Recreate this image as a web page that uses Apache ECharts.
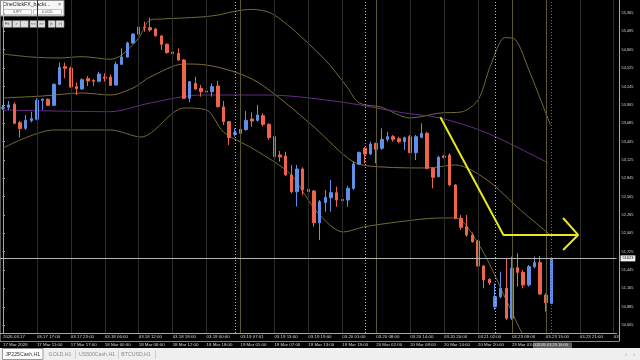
<!DOCTYPE html>
<html><head><meta charset="utf-8">
<script src="https://cdn.jsdelivr.net/npm/echarts@6/dist/echarts.min.js"></script>
<style>html,body{margin:0;padding:0;background:#000;overflow:hidden}#c{width:640px;height:360px}</style>
</head><body><div id="c"></div>
<script>
// [open, close, low, high] for each H1 candle
const candles = [
[53912,53922,53886,53962],[53927,53962,53886,54023],[53973,53683,53668,54003],[53693,53602,53465,53718],
[53607,53729,53581,53810],[53724,53754,53698,53861],[53744,54033,53729,54064],[54033,54049,53886,54064],
[54049,53957,53947,54064],[53957,54277,53947,54293],[54277,54536,54267,54613],[54546,54521,54369,54608],
[54526,54237,54226,54546],[54242,54211,54115,54303],[54206,54348,54191,54369],[54364,54328,54252,54404],
[54338,54323,54252,54354],[54323,54435,54308,54470],[54389,54369,54318,54445],[54389,54262,54252,54430],
[54267,54582,54257,54623],[54582,54694,54572,54826],[54694,54907,54684,54928],[54907,55044,54897,55055],
[55039,55151,55029,55182],[55151,55141,55080,55232],[55141,55106,55080,55294],[55121,55019,55004,55131],
[55014,54887,54801,55029],[54887,54760,54745,54902],[54770,54745,54735,54801],[54750,54648,54633,54826],
[54648,54064,54054,54664],[54064,54318,54003,54328],[54292,54206,54191,54394],[54216,54165,54089,54267],
[54175,54160,54074,54267],[54165,54242,54089,54292],[54252,53937,53922,54328],[53932,53708,53657,54023],
[53708,53464,53352,53718],[53515,53540,53479,53606],[53530,53591,53505,53860],[53586,53728,53570,53870],
[53748,53718,53631,53850],[53728,53809,53708,53962],[53799,53667,53631,53835],[53667,53464,53428,53682],
[53479,53174,53159,53530],[53199,53169,53098,53260],[53184,52895,52885,53250],[52894,52640,52615,53047],
[52640,52986,52412,53047],[52986,52666,52590,53011],[52676,52640,52590,52767],[52650,52167,52106,52666],
[52167,52488,51903,52513],[52473,52554,52335,52666],[52549,52625,52335,52818],[52625,52513,52411,52716],
[52523,52503,52259,52615],[52513,52691,52411,52727],[52691,53062,52666,53098],[53062,53240,53047,53250],
[53301,53214,53072,53326],[53214,53367,53199,53403],[53377,53286,53072,53387],[53301,53438,53276,53606],
[53438,53479,53403,53555],[53479,53438,53403,53504],[53448,53403,53377,53479],[53403,53464,53276,53479],
[53479,53235,53225,53504],[53235,53479,53123,53504],[53469,53530,53453,53682],[53530,52996,52981,53555],
[52996,52859,52691,53011],[52869,53164,52859,53184],[53184,53164,53149,53199],[53199,52742,52727,53225],
[52742,52234,52218,52757],[52234,52096,52056,52284],[52106,51979,51954,52284],[51979,51878,51862,52015],
[51888,51507,51497,51903],[51507,51293,51166,51522],[51303,51252,51217,51319],[50886,51039,50840,51242],
[51039,51166,51013,51420],[51166,50709,50684,51624],[50709,51471,50684,51649],[51481,51410,51192,51700],
[51410,51217,51166,51446],[51217,51497,51192,51522],[51497,51558,51471,51649],[51558,51080,51064,51659],
[51064,50947,50811,51090],[50937,51623,50927,51634]
];
const slotCount = 109;
const labelStep = 6;
const row1Labels = ['2026.03.17','03.17 17:00','03.17 23:00','03.18 06:00','03.18 12:00','03.18 18:00','03.19 00:00','03.19 07:01','03.19 13:00','03.19 19:00','03.20 01:00','03.20 08:00','03.20 14:00','03.20 20:00','03.21 02:00','03.23 09:00','03.23 15:00','03.23 21:00','03'];
const row2Labels = ['17 Mar 2026','17 Mar 11:00','17 Mar 17:00','18 Mar 00:00','18 Mar 06:00','18 Mar 12:00','18 Mar 18:00','19 Mar 01:00','19 Mar 07:00','19 Mar 13:00','19 Mar 19:00','20 Mar 02:00','20 Mar 08:00','20 Mar 14:00','20 Mar 20:00','23 Mar 03:00'];
const priceTicks = [55365,55085,54805,54525,54245,53965,53685,53405,53125,52845,52565,52285,52005,51725,51445,51165,50885,50605];
const priceMin = 50485, priceMax = 55563;
const lastPrice = 51623;
// indicator readings: [candle index, price]
const upperBand = [[0,54740],[5,54694],[10,54679],[14,54699],[19,54659],[21,54725],[24,54984],[26,55258],[28,55273],[35,55304],[38,55334],[41,55390],[44,55420],[46.5,55390],[48,55334],[51,55136],[57,54648],[60.6,54267],[63,53992],[66.8,53931],[72,53764],[77.3,53840],[81,53855],[84,54038],[86.2,54560],[88.8,54990],[90.6,54960],[93,54496],[96.8,53657]];
const middleBand = [[0,54069],[7,54099],[14,54145],[19,54114],[23,54221],[24.4,54298],[26,54389],[32,54587],[36,54572],[41,54465],[45,54313],[50,53992],[55,53627],[62,53093],[67,53017],[75,53002],[80,53047],[85.6,52818],[91.5,52361],[96.8,51980]];
const lowerBand = [[0,53306],[9,53581],[19,53581],[24.4,53474],[32,53916],[36,53886],[39,53550],[44,53306],[48,53093],[51,52894],[55.7,52315],[60.2,52025],[63.8,52102],[69.8,52178],[77.3,52239],[80,52239],[84.4,51797],[89,50988],[91.5,50531],[94,50150]];
const slowMA = [[0,53886],[19,53860],[26,53992],[35,54114],[47,54114],[52.6,54084],[61,53992],[71,53840],[77.3,53764],[85.6,53535],[96.4,53078]];
const gridLineIdx = [6,12,18,24,30,36,42,48,54,60,66,72,78,84,90,96,102,108];
const brightGridIdx = [42,66,90,96];
const separatorIdx = [41,64,87];
const shiftIdx = [97];
const trendPath = [[77.35,53774],[88.5,51980],[101.7,51980]];
const arrowHead = [[99.05,52239],[101.7,51980],[99.05,51751]];

const UP = '#5f8fe6', DOWN = '#ef6549';
const FONT = 'Liberation Sans, Arial, sans-serif';
const cats = Array.from({length: slotCount}, (_, i) => String(i));
const lbl = (arr) => (v) => { const i = parseInt(v, 10); return i % labelStep === 0 ? (arr[i / labelStep] || '') : ''; };

const vLines = gridLineIdx.map(i => ({xAxis: i, lineStyle: {color: brightGridIdx.includes(i) ? '#5a5630' : '#2c2c2a', width: 1, type: 'solid'}}))
  .concat(separatorIdx.map(i => ({xAxis: i, lineStyle: {color: '#bdbdbd', width: 1, type: [1, 2]}})))
  .concat(shiftIdx.map(i => ({xAxis: i, lineStyle: {color: '#6a6a6a', width: 1, type: [1, 2]}})));

const chart = echarts.init(document.getElementById('c'), null, {renderer: 'canvas'});
chart.setOption({
  backgroundColor: '#000',
  animation: false,
  grid: {left: -1.17, top: 0, width: 617.7, height: 333},
  xAxis: [
    {type: 'category', data: cats, gridIndex: 0, position: 'bottom',
     axisLine: {show: true, lineStyle: {color: '#a8a8a8'}}, axisTick: {show: false}, splitLine: {show: false},
     axisLabel: {interval: 0, formatter: lbl(row1Labels), align: 'left', color: '#d8d8d8', fontSize: 4.4, fontFamily: FONT, margin: 2}},
    {type: 'category', data: cats, gridIndex: 0, position: 'bottom', offset: 8,
     axisLine: {show: false}, axisTick: {show: false}, splitLine: {show: false},
     axisLabel: {interval: 0, formatter: lbl(row2Labels), align: 'left', color: '#d8d8d8', fontSize: 4.4, fontFamily: FONT, margin: 2}},
    {type: 'value', gridIndex: 0, min: -0.5, max: slotCount - 0.5, show: false}
  ],
  yAxis: [{type: 'value', position: 'right', offset: 2.5, min: priceMin, max: priceMax, scale: true,
    axisLine: {show: true, lineStyle: {color: '#a8a8a8'}},
    axisTick: {show: true, length: 2, customValues: priceTicks, lineStyle: {color: '#a8a8a8'}},
    splitLine: {show: false},
    axisLabel: {customValues: priceTicks, color: '#d0d0d0', fontSize: 3.9, fontFamily: FONT, margin: 2.5}}],
  series: [
    {type: 'line', xAxisIndex: 2, data: lowerBand, showSymbol: false, smooth: 0.3, lineStyle: {color: '#6f6c34', width: 1}, z: 1,
     markLine: {silent: true, symbol: 'none', label: {show: false}, data: vLines}},
    {type: 'line', xAxisIndex: 2, data: upperBand, showSymbol: false, smooth: 0.3, lineStyle: {color: '#6f6c34', width: 1}, z: 1},
    {type: 'line', xAxisIndex: 2, data: middleBand, showSymbol: false, smooth: 0.3, lineStyle: {color: '#7d6c37', width: 1}, z: 1},
    {type: 'line', xAxisIndex: 2, data: slowMA, showSymbol: false, smooth: 0.3, lineStyle: {color: '#6a2a8c', width: 1}, z: 1},
    {type: 'candlestick', xAxisIndex: 0, data: candles.map(c => [c[0], c[1], c[2], c[3]]), barWidth: 3, z: 3,
     itemStyle: {color: UP, color0: DOWN, borderColor: UP, borderColor0: DOWN, borderWidth: 1},
     markLine: {silent: true, symbol: 'none', data: [{yAxis: lastPrice}],
       lineStyle: {color: '#b4b4b4', width: 1, type: 'solid'},
       label: {position: 'end', formatter: String(lastPrice), backgroundColor: '#f4f4f4', color: '#000', fontSize: 3.9, fontFamily: FONT, padding: [1, 2], distance: 4}}},
    {type: 'line', xAxisIndex: 2, data: trendPath, showSymbol: false, lineStyle: {color: '#e9e620', width: 2}, z: 5},
    {type: 'line', xAxisIndex: 2, data: arrowHead, showSymbol: false, lineStyle: {color: '#e9e620', width: 2}, z: 5}
  ],
  graphic: [
    {type: 'line', shape: {x1: 619.5, y1: 0, x2: 619.5, y2: 341}, style: {stroke: '#a8a8a8', lineWidth: 1}, silent: true},
    {type: 'line', shape: {x1: 0, y1: 341.5, x2: 619.5, y2: 341.5}, style: {stroke: '#8a8a8a', lineWidth: 1}, silent: true},
    {type: 'line', shape: {x1: 0.5, y1: 0, x2: 0.5, y2: 341}, style: {stroke: '#5a5a5a', lineWidth: 1}, silent: true},
    {type: 'rect', shape: {x: 533, y: 342.5, width: 39, height: 5.5}, style: {fill: '#5c5c5c'}, silent: true},
    {type: 'text', x: 552.5, y: 345.3, style: {text: '2026.03.23 16:00', fontSize: 4, fontFamily: FONT, fill: '#e0e0e0', align: 'center', verticalAlign: 'middle'}, silent: true},
    {type: 'rect', shape: {x: 0, y: 348, width: 640, height: 12}, style: {fill: '#efefef'}, silent: true},
    {type: 'rect', shape: {x: 2.5, y: 348.5, width: 40.5, height: 11}, style: {fill: '#ffffff', stroke: '#9a9a9a', lineWidth: 1}, silent: true},
    {type: 'text', x: 22.7, y: 354.5, style: {text: 'JP225Cash,H1', fontSize: 5.2, fontFamily: FONT, fill: '#333', align: 'center', verticalAlign: 'middle'}, silent: true},
    {type: 'text', x: 60, y: 354.5, style: {text: 'GOLD,H1', fontSize: 5.2, fontFamily: FONT, fill: '#8a8a8a', align: 'center', verticalAlign: 'middle'}, silent: true},
    {type: 'text', x: 97, y: 354.5, style: {text: 'US500Cash,H1', fontSize: 5.2, fontFamily: FONT, fill: '#8a8a8a', align: 'center', verticalAlign: 'middle'}, silent: true},
    {type: 'text', x: 136, y: 354.5, style: {text: 'BTCUSD,H1', fontSize: 5.2, fontFamily: FONT, fill: '#8a8a8a', align: 'center', verticalAlign: 'middle'}, silent: true},
    {type: 'line', shape: {x1: 75.5, y1: 350, x2: 75.5, y2: 359}, style: {stroke: '#cfcfcf'}, silent: true},
    {type: 'line', shape: {x1: 118.5, y1: 350, x2: 118.5, y2: 359}, style: {stroke: '#cfcfcf'}, silent: true},
    {type: 'line', shape: {x1: 155.5, y1: 350, x2: 155.5, y2: 359}, style: {stroke: '#cfcfcf'}, silent: true},
    {type: 'text', x: 626, y: 354.5, style: {text: '‹', fontSize: 6, fontFamily: FONT, fill: '#999', align: 'center', verticalAlign: 'middle'}, silent: true},
    {type: 'text', x: 634, y: 354.5, style: {text: '›', fontSize: 6, fontFamily: FONT, fill: '#999', align: 'center', verticalAlign: 'middle'}, silent: true},
    {type: 'rect', shape: {x: 0.5, y: 0.5, width: 63.5, height: 15.5}, style: {fill: '#f6f6f6', stroke: '#8f8f8f', lineWidth: 1}, silent: true},
    {type: 'text', x: 3, y: 4.5, style: {text: 'OneClickFX_backt...', fontSize: 5.2, fontFamily: FONT, fill: '#222', verticalAlign: 'middle'}, silent: true},
    {type: 'text', x: 59.5, y: 4.5, style: {text: '×', fontSize: 5.5, fontFamily: FONT, fill: '#555', align: 'center', verticalAlign: 'middle'}, silent: true},
    {type: 'rect', shape: {x: 3.5, y: 9.5, width: 28, height: 5}, style: {fill: '#fff', stroke: '#c4c4c4'}, silent: true},
    {type: 'rect', shape: {x: 33.5, y: 9.5, width: 28, height: 5}, style: {fill: '#fff', stroke: '#c4c4c4'}, silent: true},
    {type: 'text', x: 17.5, y: 12.2, style: {text: '0JPY', fontSize: 3.8, fontFamily: FONT, fill: '#555', align: 'center', verticalAlign: 'middle'}, silent: true},
    {type: 'text', x: 47.5, y: 12.2, style: {text: '0.00%', fontSize: 3.8, fontFamily: FONT, fill: '#555', align: 'center', verticalAlign: 'middle'}, silent: true},
    ...[[2.7,9,'Fit'],[12.7,7.5,'>'],[20.7,7.5,'·'],[30,6.8,'<<'],[37.7,7.3,'>>'],[48.3,6.8,'|<'],[56,8,'>|']].flatMap(b => [
      {type: 'rect', shape: {x: b[0], y: 20.7, width: b[1], height: 6.6}, style: {fill: '#e2e2e2', stroke: '#a0a0a0', lineWidth: 0.6}, silent: true},
      {type: 'text', x: b[0] + b[1] / 2, y: 24, style: {text: b[2], fontSize: 4, fontFamily: FONT, fill: '#333', align: 'center', verticalAlign: 'middle'}, silent: true}
    ])
  ]
});
</script></body></html>
